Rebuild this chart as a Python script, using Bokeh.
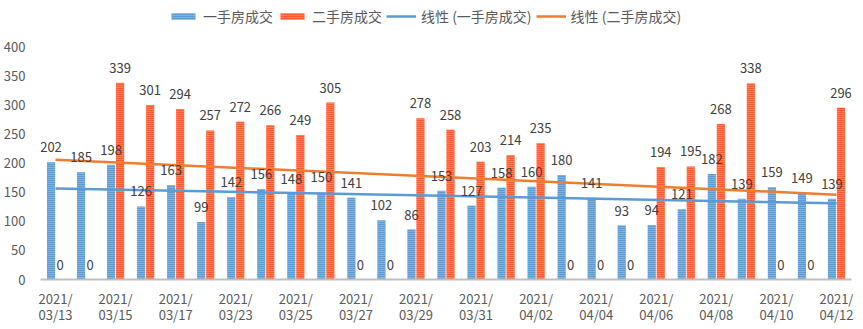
import numpy as np
from bokeh.plotting import figure
from bokeh.models import Range1d, Legend, LegendItem, ColumnDataSource, FixedTicker
from bokeh.transform import dodge
from bokeh.core.properties import value
from bokeh.embed import file_html
from bokeh.resources import INLINE

dates = ["2021/03/13", "2021/03/14", "2021/03/15", "2021/03/16", "2021/03/17",
         "2021/03/22", "2021/03/23", "2021/03/24", "2021/03/25", "2021/03/26",
         "2021/03/27", "2021/03/28", "2021/03/29", "2021/03/30", "2021/03/31",
         "2021/04/01", "2021/04/02", "2021/04/03", "2021/04/04", "2021/04/05",
         "2021/04/06", "2021/04/07", "2021/04/08", "2021/04/09", "2021/04/10",
         "2021/04/11", "2021/04/12"]
first_hand = [202, 185, 198, 126, 163, 99, 142, 156, 148, 150, 141, 102, 86, 153,
              127, 158, 160, 180, 141, 93, 94, 121, 182, 139, 159, 149, 139]
second_hand = [0, 0, 339, 301, 294, 257, 272, 266, 249, 305, 0, 0, 278, 258,
               203, 214, 235, 0, 0, 0, 194, 195, 268, 338, 0, 0, 296]
y_ticks = [0, 50, 100, 150, 200, 250, 300, 350, 400]
series_names = ["一手房成交", "二手房成交", "线性 (一手房成交)", "线性 (二手房成交)"]

FONT = "Noto Sans CJK SC"
BLUE = "#5B9BD5"
ORANGE_BAR = "#FF5A2B"
ORANGE_LINE = "#ED7D31"

idx = list(range(len(dates)))
fit1 = np.polyfit(idx, first_hand, 1)
fit2 = np.polyfit(idx, second_hand, 1)

src = ColumnDataSource(dict(
    i=idx,
    a=first_hand,
    b=second_hand,
    a_txt=[str(v) for v in first_hand],
    b_txt=[str(v) for v in second_hand],
))
trend = ColumnDataSource(dict(
    i=[idx[0], idx[-1]],
    t1=[float(np.polyval(fit1, idx[0])), float(np.polyval(fit1, idx[-1]))],
    t2=[float(np.polyval(fit2, idx[0])), float(np.polyval(fit2, idx[-1]))],
))

# y range extends above 400 so the legend can sit inside the frame's top area
p = figure(width=863, height=329, x_range=Range1d(-0.5, len(dates) - 0.5),
           y_range=Range1d(0, 481), output_backend="svg", toolbar_location=None,
           min_border_left=38, min_border_right=12, min_border_top=0,
           min_border_bottom=50)
p.outline_line_color = None
p.xgrid.grid_line_color = None
p.ygrid.grid_line_color = None

off = 0.15
r1 = p.vbar(x=dodge("i", -off), top="a", width=0.27, source=src,
            fill_color=BLUE, line_color=None, hatch_pattern="horizontal_line",
            hatch_color="#A9CBEA", hatch_scale=2, hatch_weight=1)
r2 = p.vbar(x=dodge("i", off), top="b", width=0.27, source=src,
            fill_color=ORANGE_BAR, line_color=None, hatch_pattern="horizontal_line",
            hatch_color="#FFA985", hatch_scale=2, hatch_weight=1)

l1 = p.line(x="i", y="t1", source=trend, line_color=BLUE, line_width=2.5)
l2 = p.line(x="i", y="t2", source=trend, line_color=ORANGE_LINE, line_width=2.5)

for col, txt, dx in (("a", "a_txt", -off), ("b", "b_txt", off)):
    p.text(x=dodge("i", dx), y=col, text=txt, source=src,
           text_align="center", text_baseline="bottom", y_offset=-10,
           text_font=value(FONT), text_font_size="13px", text_color="#404040")

# axes
p.yaxis.ticker = FixedTicker(ticks=y_ticks, minor_ticks=[])
p.yaxis.axis_line_color = None
p.yaxis.major_tick_line_color = None
p.yaxis.minor_tick_line_color = None
p.yaxis.major_label_standoff = 9
p.yaxis.major_label_text_font = FONT
p.yaxis.major_label_text_font_size = "13px"
p.yaxis.major_label_text_color = "#595959"

shown = idx[::2]
p.xaxis.ticker = FixedTicker(ticks=shown, minor_ticks=[])
p.xaxis.major_label_overrides = {i: dates[i][:5] + "\n" + dates[i][5:] for i in shown}
p.xaxis.axis_line_color = "#BFBFBF"
p.xaxis.axis_line_width = 2
p.xaxis.major_tick_line_color = None
p.xaxis.minor_tick_line_color = None
p.xaxis.major_tick_out = 0
p.xaxis.major_label_standoff = 9
p.xaxis.major_label_text_font = FONT
p.xaxis.major_label_text_font_size = "13px"
p.xaxis.major_label_text_color = "#595959"
p.xaxis.major_label_text_line_height = 0.85

legend = Legend(items=[
    LegendItem(label=series_names[0], renderers=[r1]),
    LegendItem(label=series_names[1], renderers=[r2]),
    LegendItem(label=series_names[2], renderers=[l1]),
    LegendItem(label=series_names[3], renderers=[l2]),
], orientation="horizontal", location=(128, 253), padding=0, margin=0, spacing=4,
    label_standoff=5, glyph_width=30, glyph_height=8,
    label_text_font=FONT, label_text_font_size="14px", label_text_color="#595959",
    background_fill_alpha=0, border_line_alpha=0)
p.add_layout(legend, "center")

open("out.html", "w").write(file_html(p, INLINE))
